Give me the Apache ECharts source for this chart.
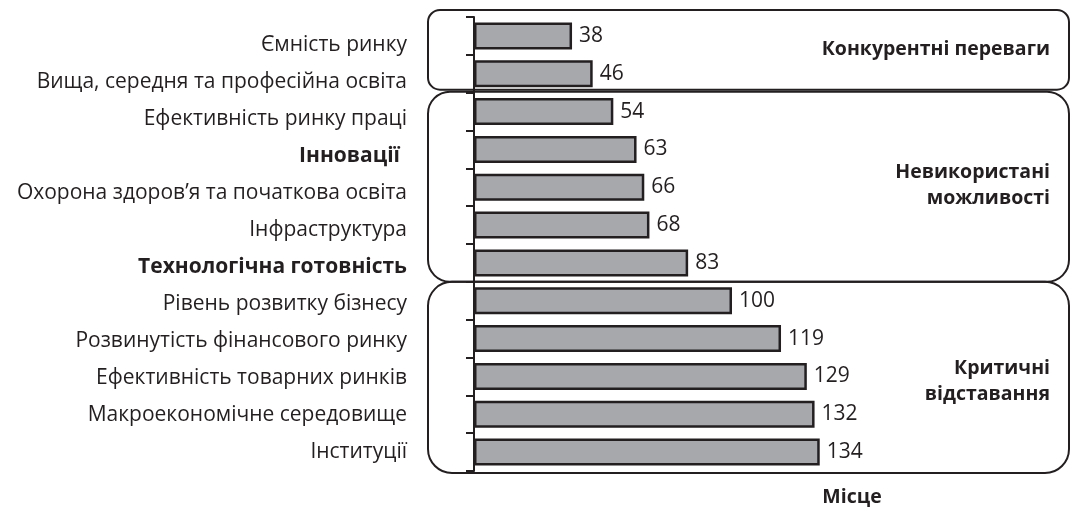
<!DOCTYPE html>
<html>
<head>
<meta charset="utf-8">
<script src="https://cdn.jsdelivr.net/npm/echarts@6/dist/echarts.min.js"></script>
<style>html,body{margin:0;padding:0;background:#fff;}#c{width:1071px;height:514px;}</style>
</head>
<body>
<div id="c"></div>
<script>
const categories = ['Ємність ринку','Вища, середня та професійна освіта','Ефективність ринку праці','Інновації','Охорона здоров’я та початкова освіта','Інфраструктура','Технологічна готовність','Рівень розвитку бізнесу','Розвинутість фінансового ринку','Ефективність товарних ринків','Макроекономічне середовище','Інституції'];
const values = [38,46,54,63,66,68,83,100,119,129,132,134];
const boldCategories = ['Інновації','Технологічна готовність'];
const groups = [
  {name:'Конкурентні переваги', from:0, to:1},
  {name:'Невикористані\nможливості', from:2, to:6},
  {name:'Критичні\nвідставання', from:7, to:11}
];
const axisName = 'Місце';

const FONT = '"Open Sans", "Noto Sans", sans-serif';
const INK = '#231f20';
const FS = 21;
const chart = echarts.init(document.getElementById('c'));
const GL = 474, GT = 17, GH = 454;
const option = {
  animation:false,
  grid:[
    {left:GL, top:GT, width:387, height:GH},
    {left:0, top:27, width:407, height:443}
  ],
  xAxis:[
    {gridIndex:0, type:'value', min:0, max:150, show:false},
    {gridIndex:1, type:'value', min:0, max:1, show:false}
  ],
  yAxis:[
    {gridIndex:0, type:'category', inverse:true, data:categories,
     axisLine:{lineStyle:{color:INK,width:2}},
     axisTick:{show:true,length:8,lineStyle:{color:INK,width:2}},
     axisLabel:{show:false}},
    {gridIndex:1, type:'category', inverse:true, data:categories,
     axisLine:{show:false}, axisTick:{show:false},
     axisLabel:{margin:0, fontFamily:FONT, fontSize:FS, color:INK,
       formatter:function(v){
         const i = boldCategories.indexOf(v);
         return i === 0 ? '{bi|'+v+'}' : (i > 0 ? '{b|'+v+'}' : v);
       },
       rich:{
         b:{fontWeight:'bold',fontFamily:FONT,fontSize:FS,color:INK},
         bi:{fontWeight:'bold',fontFamily:FONT,fontSize:FS,color:INK,padding:[0,7,0,0]}
       }}}
  ],
  series:[{
    type:'bar', xAxisIndex:0, yAxisIndex:0, data:values, barWidth:27,
    itemStyle:{color:'#a7a8ac', borderColor:INK, borderWidth:2.5},
    label:{show:true, position:'right', distance:7, fontFamily:FONT, fontSize:FS, color:INK},
    z:3
  }]
};
chart.setOption(option);

function draw(){
  const c0 = chart.convertToPixel({yAxisIndex:0}, 0);
  const c1 = chart.convertToPixel({yAxisIndex:0}, 1);
  const band = c1 - c0;
  const edge = i => c0 - band/2 + i*band;
  const left = GL - 46, right = 1069;
  const els = [];
  const tops = [edge(0)-7, edge(2)-1, edge(7)];
  const bots = [edge(2)-3, edge(7), edge(12)+2];
  const radii = [12, 22, 24];
  groups.forEach((g,k)=>{
    els.push({type:'rect', z:1, shape:{x:left, y:tops[k], width:right-left, height:bots[k]-tops[k], r:radii[k]},
      style:{fill:'none', stroke:INK, lineWidth:2}});
    const cy = (tops[k]+bots[k])/2 + (k===0 ? 0 : (k===1? -1 : 4));
    els.push({type:'text', z:5, x:1050, y:cy,
      style:{text:g.name, fontFamily:FONT, fontWeight:'bold', fontSize:19.5, fill:INK,
        align:'right', verticalAlign:'middle', lineHeight:26}});
  });
  els.push({type:'text', z:5, x:852, y:497,
    style:{text:axisName, fontFamily:FONT, fontWeight:'bold', fontSize:19.5, fill:INK, align:'center', verticalAlign:'middle'}});
  chart.setOption({graphic:els});
}
draw();
</script>
</body>
</html>
